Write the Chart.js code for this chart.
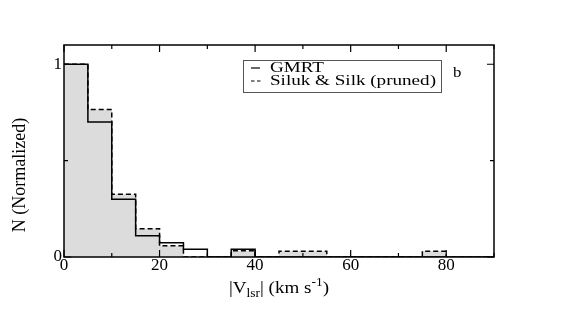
<!DOCTYPE html>
<html>
<head>
<meta charset="utf-8">
<script src="https://cdn.jsdelivr.net/npm/chart.js@4/dist/chart.umd.min.js"></script>
<style>
  html, body { margin: 0; padding: 0; background: #fff; }
  #wrap { width: 572px; height: 311px; }
</style>
</head>
<body>
<div id="wrap"><canvas id="myChart"></canvas></div>
<script>
// histogram bins, 5 km/s wide
const binEdges = [0, 5, 10, 15, 20, 25, 30, 35, 40, 45, 50, 55, 60, 65, 70, 75, 80, 85, 90];
const gmrt  = [1.0, 0.70, 0.30, 0.11, 0.074, 0.04, 0, 0.04, 0, 0, 0, 0, 0, 0, 0, 0, 0, 0];
const siluk = [1.0, 0.765, 0.325, 0.147, 0.058, 0, 0, 0.033, 0, 0.03, 0.03, 0, 0, 0, 0, 0.03, 0, 0];
const seriesNames = ['GMRT', 'Siluk & Silk (pruned)'];
const xTicks = [0, 20, 40, 60, 80];
const yTicks = [0, 1];

const serif = '"Liberation Serif", "DejaVu Serif", serif';

function toSteps(vals) {
  const pts = vals.map((v, i) => ({x: binEdges[i], y: v}));
  pts.push({x: binEdges[binEdges.length - 1], y: 0});
  return pts;
}

// text a bit wider than the font, like the original figure
function wideText(ctx, txt, x, y, sx) {
  ctx.save();
  ctx.translate(x, y);
  ctx.scale(sx, 1);
  ctx.fillText(txt, 0, 0);
  ctx.restore();
}

// frame, inward ticks, legend, axis titles
const decor = {
  id: 'decor',
  afterDraw(chart) {
    const {ctx, chartArea: a, scales: {x, y}} = chart;
    ctx.save();
    ctx.strokeStyle = '#000';
    ctx.lineWidth = 1.5;
    ctx.strokeRect(a.left, a.top, a.right - a.left, a.bottom - a.top);

    ctx.lineWidth = 1.2;
    ctx.beginPath();
    for (let v = 0; v <= 90; v += 10) {
      const px = x.getPixelForValue(v);
      const len = v % 20 === 0 ? 7 : 4;
      ctx.moveTo(px, a.bottom); ctx.lineTo(px, a.bottom - len);
      ctx.moveTo(px, a.top); ctx.lineTo(px, a.top + len);
    }
    for (let v = 0; v <= 1; v += 0.5) {
      const py = y.getPixelForValue(v);
      const len = v === 0.5 ? 4 : 7;
      ctx.moveTo(a.left, py); ctx.lineTo(a.left + len, py);
      ctx.moveTo(a.right, py); ctx.lineTo(a.right - len, py);
    }
    ctx.stroke();

    // legend box
    ctx.lineWidth = 1;
    ctx.strokeStyle = '#555';
    ctx.strokeRect(243.5, 60.5, 198, 32);
    ctx.strokeStyle = '#000';
    ctx.lineWidth = 1.2;
    ctx.beginPath();
    ctx.moveTo(251, 68); ctx.lineTo(260, 68);
    ctx.stroke();
    ctx.setLineDash([3.5, 2.5]);
    ctx.beginPath();
    ctx.moveTo(251, 81); ctx.lineTo(261, 81);
    ctx.stroke();
    ctx.setLineDash([]);
    ctx.fillStyle = '#000';
    ctx.font = '14px ' + serif;
    ctx.textBaseline = 'alphabetic';
    ctx.textAlign = 'left';
    const sx = 166 / ctx.measureText(seriesNames[1]).width;
    wideText(ctx, seriesNames[0], 270, 72, sx);
    wideText(ctx, seriesNames[1], 270, 85, sx);
    wideText(ctx, 'b', 453, 77, 1.2);

    // x title: |V_lsr| (km s^-1)
    const big = '17px ' + serif, small = '12px ' + serif;
    const parts = [
      ['|V', big, 0], ['lsr', small, 4], ['| (km s', big, 0], ['-1', small, -7], [')', big, 0]
    ];
    const tsx = 1.12;
    let total = 0;
    parts.forEach(p => { ctx.font = p[1]; total += ctx.measureText(p[0]).width * tsx; });
    let cx = (a.left + a.right) / 2 - total / 2;
    parts.forEach(p => {
      ctx.font = p[1];
      wideText(ctx, p[0], cx, 293 + p[2], tsx);
      cx += ctx.measureText(p[0]).width * tsx;
    });

    // y title
    ctx.translate(25, 175);
    ctx.rotate(-Math.PI / 2);
    ctx.textAlign = 'center';
    ctx.font = '18px ' + serif;
    ctx.fillText('N (Normalized)', 0, 0);
    ctx.restore();
  }
};

new Chart(document.getElementById('myChart'), {
  type: 'line',
  data: {
    datasets: [{
      label: seriesNames[0],
      data: toSteps(gmrt),
      stepped: 'before',
      borderColor: '#000',
      borderWidth: 1.5,
      pointRadius: 0,
      fill: false,
      order: 0
    }, {
      label: seriesNames[1],
      data: toSteps(siluk),
      stepped: 'before',
      borderColor: '#000',
      borderWidth: 1.5,
      borderDash: [5, 3],
      backgroundColor: '#dcdcdc',
      pointRadius: 0,
      fill: 'origin',
      order: 1
    }]
  },
  plugins: [decor],
  options: {
    responsive: true,
    maintainAspectRatio: false,
    animation: false,
    layout: { padding: { left: 0, right: 78, top: 45, bottom: 0 } },
    plugins: {
      legend: { display: false },
      tooltip: { enabled: false },
      filler: { drawTime: 'beforeDatasetsDraw' }
    },
    scales: {
      x: {
        type: 'linear',
        min: 0, max: 90,
        afterFit: s => { s.height = 54; },
        afterBuildTicks: s => { s.ticks = xTicks.map(v => ({value: v})); },
        grid: { display: false },
        border: { display: false },
        ticks: { color: '#000', font: { family: serif, size: 17 }, padding: -10, maxRotation: 0 }
      },
      y: {
        min: 0, max: 1.1,
        afterFit: s => { s.width = 64; },
        afterBuildTicks: s => { s.ticks = yTicks.map(v => ({value: v})); },
        grid: { display: false },
        border: { display: false },
        ticks: { color: '#000', font: { family: serif, size: 17 }, padding: -6 }
      }
    }
  }
});
</script>
</body>
</html>
